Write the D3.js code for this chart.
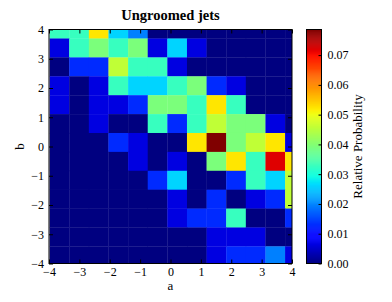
<!DOCTYPE html>
<html>
<head>
<meta charset="utf-8">
<script src="https://cdn.jsdelivr.net/npm/d3@7"></script>
<style>
  body { margin: 0; background: #fff; }
  text { font-family: "Liberation Serif", "DejaVu Serif", serif; }
</style>
</head>
<body>
<div id="chart"></div>
<script>
// Histogram bins (data units): first edge and bin width along a and b
const aBinStart = -3.98;
const bBinStart = -4.06;
const binWidth = 0.646;

// Relative probability per bin, rows from top (high b) to bottom (low b), columns low a -> high a
const prob = [
    [0.0328, 0.0328, 0.0524, 0.0262, 0.0197, 0, 0, 0, 0, 0, 0, 0, 0],
    [0.0066, 0.0328, 0.0393, 0.0328, 0.0393, 0.0066, 0.0262, 0.0066, 0, 0, 0, 0, 0],
    [0, 0.0131, 0.0131, 0.0459, 0.0328, 0.0328, 0.0066, 0, 0, 0, 0, 0, 0],
    [0.0066, 0, 0.0066, 0.0328, 0.0262, 0.0262, 0.0328, 0.0393, 0.0131, 0.0066, 0, 0, 0],
    [0.0066, 0, 0.0066, 0.0066, 0.0131, 0.0393, 0.0393, 0.0328, 0.0524, 0.0328, 0, 0, 0],
    [0, 0, 0.0066, 0, 0, 0.0328, 0.0131, 0.0328, 0.0459, 0.0393, 0.0393, 0.0066, 0],
    [0, 0, 0, 0.0131, 0.0066, 0, 0, 0.0524, 0.0786, 0.0393, 0.0459, 0.0524, 0.0066],
    [0, 0, 0, 0, 0.0066, 0, 0.0066, 0, 0.0393, 0.0524, 0.0328, 0.0721, 0.0524],
    [0, 0, 0, 0, 0, 0.0131, 0.0262, 0, 0, 0.0131, 0.0328, 0.0262, 0.0459],
    [0, 0, 0, 0, 0, 0, 0.0066, 0, 0.0131, 0, 0.0066, 0.0131, 0.0459],
    [0, 0, 0, 0, 0, 0, 0.0066, 0.0131, 0.0131, 0.0328, 0, 0, 0.0131],
    [0, 0, 0, 0, 0, 0, 0, 0, 0.0066, 0.0066, 0.0066, 0, 0],
    [0, 0, 0, 0, 0, 0, 0, 0, 0.0066, 0.0131, 0.0131, 0.0197, 0.0066]
];

const aTicks = [-4, -3, -2, -1, 0, 1, 2, 3, 4];
const bTicks = [-4, -3, -2, -1, 0, 1, 2, 3, 4];
const cbTicks = [0, 0.01, 0.02, 0.03, 0.04, 0.05, 0.06, 0.07];

const width = 392, height = 302;
const margin = { top: 29.5, left: 49, right: 100, bottom: 38.5 };
const plotR = width - margin.right;
const plotB = height - margin.bottom;

const svg = d3.select("#chart").append("svg")
    .attr("width", width)
    .attr("height", height);

const x = d3.scaleLinear().domain([-4, 4]).range([margin.left, plotR]);
const y = d3.scaleLinear().domain([-4, 4]).range([plotB, margin.top]);

const vmax = d3.max(prob.flat());

// matplotlib "jet" built from its channel segments
const chan = (d, r) => d3.scaleLinear().domain(d).range(r).clamp(true);
const jetR = chan([0, 0.35, 0.66, 0.89, 1], [0, 0, 1, 1, 0.5]);
const jetG = chan([0, 0.125, 0.375, 0.64, 0.91, 1], [0, 0, 1, 1, 0, 0]);
const jetB = chan([0, 0.11, 0.34, 0.65, 1], [0.5, 1, 1, 0, 0]);
const jet = t => d3.rgb(jetR(t) * 255, jetG(t) * 255, jetB(t) * 255).toString();
const color = v => jet(v / vmax);

svg.append("clipPath").attr("id", "plotClip")
    .append("rect")
    .attr("x", margin.left).attr("y", margin.top)
    .attr("width", plotR - margin.left).attr("height", plotB - margin.top);

const nRows = prob.length;
const cells = [];
prob.forEach((row, ri) => {
    row.forEach((v, ci) => {
        const a0 = aBinStart + ci * binWidth;
        const b0 = bBinStart + (nRows - 1 - ri) * binWidth;
        cells.push({ a0, a1: a0 + binWidth, b0, b1: b0 + binWidth, v });
    });
});

svg.append("g").attr("clip-path", "url(#plotClip)")
    .selectAll("rect")
    .data(cells)
    .join("rect")
    .attr("x", d => x(d.a0))
    .attr("y", d => y(d.b1))
    .attr("width", d => x(d.a1) - x(d.a0) + 0.3)
    .attr("height", d => y(d.b0) - y(d.b1) + 0.3)
    .attr("fill", d => color(d.v));

// axes, ticks pointing inward (classic style)
const fmt = d => d < 0 ? "\u2212" + Math.abs(d) : String(d);
const tickStyle = g => {
    g.select(".domain").remove();
    g.selectAll("text").attr("font-size", "12px").attr("fill", "#000")
        .style("font-family", "'Liberation Serif', serif");
    g.selectAll("line").attr("stroke", "#000");
};

svg.append("g").attr("transform", `translate(0,${plotB})`)
    .call(d3.axisBottom(x).tickValues(aTicks).tickFormat(fmt).tickSizeInner(-4).tickPadding(4))
    .call(tickStyle);
svg.append("g").attr("transform", `translate(0,${margin.top})`)
    .call(d3.axisTop(x).tickValues(aTicks).tickFormat("").tickSizeInner(-4))
    .call(tickStyle);
svg.append("g").attr("transform", `translate(${margin.left},0)`)
    .call(d3.axisLeft(y).tickValues(bTicks).tickFormat(fmt).tickSizeInner(-4).tickPadding(5))
    .call(tickStyle);
svg.append("g").attr("transform", `translate(${plotR},0)`)
    .call(d3.axisRight(y).tickValues(bTicks).tickFormat("").tickSizeInner(-4))
    .call(tickStyle);

svg.append("rect")
    .attr("x", margin.left).attr("y", margin.top)
    .attr("width", plotR - margin.left).attr("height", plotB - margin.top)
    .attr("fill", "none").attr("stroke", "#000").attr("stroke-width", 1);

// Title and axis labels
svg.append("text")
    .attr("x", (margin.left + plotR) / 2).attr("y", 20)
    .attr("text-anchor", "middle")
    .attr("font-size", "14.5px").attr("font-weight", "bold")
    .text("Ungroomed jets");

svg.append("text")
    .attr("x", (margin.left + plotR) / 2).attr("y", 290)
    .attr("text-anchor", "middle")
    .attr("font-size", "13px")
    .text("a");

svg.append("text")
    .attr("transform", `translate(24,${(margin.top + plotB) / 2}) rotate(-90)`)
    .attr("text-anchor", "middle")
    .attr("font-size", "13px")
    .text("b");

// Colorbar
const cbX = 306.5, cbW = 15;
const cbScale = d3.scaleLinear().domain([0, vmax]).range([plotB, margin.top]);
const cbSteps = d3.range(0, 240);
svg.append("g").selectAll("rect")
    .data(cbSteps)
    .join("rect")
    .attr("x", cbX)
    .attr("y", i => cbScale(vmax * (i + 1) / cbSteps.length))
    .attr("width", cbW)
    .attr("height", i => cbScale(vmax * i / cbSteps.length) - cbScale(vmax * (i + 1) / cbSteps.length) + 0.5)
    .attr("fill", i => jet((i + 0.5) / cbSteps.length));

svg.append("g").attr("transform", `translate(${cbX + cbW},0)`)
    .call(d3.axisRight(cbScale).tickValues(cbTicks).tickFormat(d3.format(".2f")).tickSizeInner(-3).tickPadding(6))
    .call(tickStyle);

svg.append("rect")
    .attr("x", cbX).attr("y", margin.top)
    .attr("width", cbW).attr("height", plotB - margin.top)
    .attr("fill", "none").attr("stroke", "#000").attr("stroke-width", 1);

svg.append("text")
    .attr("transform", `translate(362,${(margin.top + plotB) / 2}) rotate(-90)`)
    .attr("text-anchor", "middle")
    .attr("font-size", "13px")
    .text("Relative Probability");
</script>
</body>
</html>
